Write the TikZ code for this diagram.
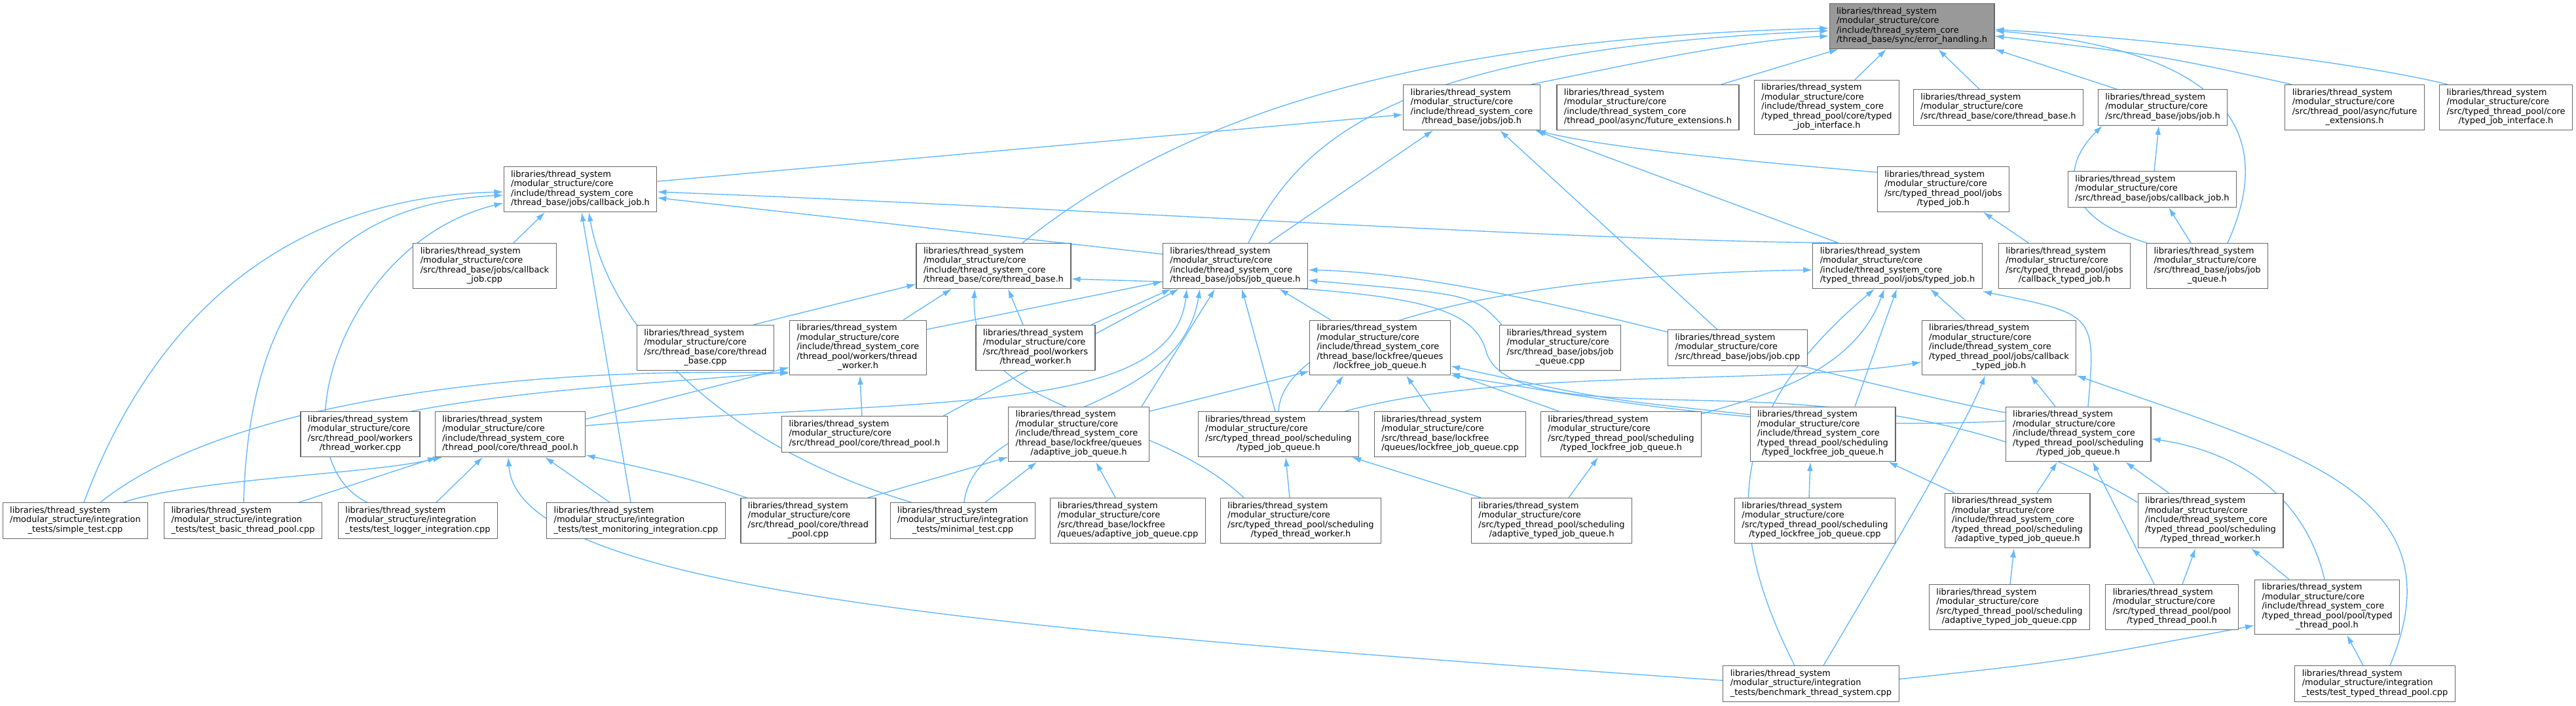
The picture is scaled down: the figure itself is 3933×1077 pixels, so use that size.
\documentclass[tikz,border=0pt]{standalone}
\usepackage{fontspec}
\newfontfamily\doxfont{DejaVu Sans}
\usetikzlibrary{arrows.meta,calc}
\pgfdeclarelayer{bg}
\pgfsetlayers{bg,main}
\definecolor{edgeblue}{HTML}{63B8FF}
\definecolor{boxgray}{HTML}{666666}
\definecolor{rootfill}{HTML}{999999}
% label: lines left aligned, last line centred
\newcommand{\flbl}[2]{\begin{tabular}{@{}l@{}}#1\\\multicolumn{1}{@{}c@{}}{#2}\end{tabular}}
\newcommand{\tscore}{libraries/thread\_system\\/modular\_structure/core}
\newcommand{\tsinc}{\tscore\\/include/thread\_system\_core}
\newcommand{\tsint}{libraries/thread\_system\\/modular\_structure/integration}

\begin{document}
\begin{tikzpicture}[x=1pt,y=-1pt,
    hdr/.style={draw=boxgray, line width=1.2pt, fill=white, inner xsep=11pt, inner ysep=5.5pt,
        font=\doxfont\fontsize{13}{14.5}\selectfont},
    roothdr/.style={hdr, fill=rootfill},
    incline/.style={draw=edgeblue, line width=1.4pt, -{Latex[length=14pt,width=9pt]}}
]
\useasboundingbox (0,0) rectangle (3933,1077);

% root
\node[roothdr] (R) at (2919,40) {\flbl{\tsinc}{/thread\_base/sync/error\_handling.h}};

% row 1
\node[hdr] (IJ) at (2247,164) {\flbl{\tsinc}{/thread\_base/jobs/job.h}};
\node[hdr] (IFE) at (2516,164) {\flbl{\tsinc}{/thread\_pool/async/future\_extensions.h}};
\node[hdr] (ITJI) at (2789,164) {\flbl{\tsinc\\/typed\_thread\_pool/core/typed}{\_job\_interface.h}};
\node[hdr] (STB) at (3051,164) {\flbl{\tscore}{/src/thread\_base/core/thread\_base.h}};
\node[hdr] (SJ) at (3302,164) {\flbl{\tscore}{/src/thread\_base/jobs/job.h}};
\node[hdr] (SFE) at (3595,164) {\flbl{\tscore\\/src/thread\_pool/async/future}{\_extensions.h}};
\node[hdr] (STJI) at (3826,164) {\flbl{\tscore\\/src/typed\_thread\_pool/core}{/typed\_job\_interface.h}};

% row 2
\node[hdr] (ICJ) at (886,289) {\flbl{\tsinc}{/thread\_base/jobs/callback\_job.h}};
\node[hdr] (STJ) at (2967,289) {\flbl{\tscore\\/src/typed\_thread\_pool/jobs}{/typed\_job.h}};
\node[hdr] (SCJ) at (3286,289) {\flbl{\tscore}{/src/thread\_base/jobs/callback\_job.h}};

% row 3
\node[hdr] (CJC) at (740,406) {\flbl{\tscore\\/src/thread\_base/jobs/callback}{\_job.cpp}};
\node[hdr] (ITB) at (1517,406) {\flbl{\tsinc}{/thread\_base/core/thread\_base.h}};
\node[hdr] (IJQ) at (1886,406) {\flbl{\tsinc}{/thread\_base/jobs/job\_queue.h}};
\node[hdr] (ITJ) at (2897,406) {\flbl{\tsinc}{/typed\_thread\_pool/jobs/typed\_job.h}};
\node[hdr] (SCTJ) at (3152,406) {\flbl{\tscore\\/src/typed\_thread\_pool/jobs}{/callback\_typed\_job.h}};
\node[hdr] (SJQ) at (3370,406) {\flbl{\tscore\\/src/thread\_base/jobs/job}{\_queue.h}};

% row 4
\node[hdr] (TBC) at (1077,531) {\flbl{\tscore\\/src/thread\_base/core/thread}{\_base.cpp}};
\node[hdr] (ITW) at (1310,531) {\flbl{\tsinc\\/thread\_pool/workers/thread}{\_worker.h}};
\node[hdr] (STW) at (1581,531) {\flbl{\tscore\\/src/thread\_pool/workers}{/thread\_worker.h}};
\node[hdr] (ILJQ) at (2107,531) {\flbl{\tsinc\\/thread\_base/lockfree/queues}{/lockfree\_job\_queue.h}};
\node[hdr] (JQC) at (2382,531) {\flbl{\tscore\\/src/thread\_base/jobs/job}{\_queue.cpp}};
\node[hdr] (JC) at (2653,531) {\flbl{\tscore}{/src/thread\_base/jobs/job.cpp}};
\node[hdr] (ICTJ) at (3052,531) {\flbl{\tsinc\\/typed\_thread\_pool/jobs/callback}{\_typed\_job.h}};

% row 5
\node[hdr] (TWC) at (550,663) {\flbl{\tscore\\/src/thread\_pool/workers}{/thread\_worker.cpp}};
\node[hdr] (ITP) at (779,663) {\flbl{\tsinc}{/thread\_pool/core/thread\_pool.h}};
\node[hdr] (STP) at (1320,663) {\flbl{\tscore}{/src/thread\_pool/core/thread\_pool.h}};
\node[hdr] (IAJQ) at (1647,663) {\flbl{\tsinc\\/thread\_base/lockfree/queues}{/adaptive\_job\_queue.h}};
\node[hdr] (STJQ) at (1952,663) {\flbl{\tscore\\/src/typed\_thread\_pool/scheduling}{/typed\_job\_queue.h}};
\node[hdr] (LJQC) at (2214,663) {\flbl{\tscore\\/src/thread\_base/lockfree}{/queues/lockfree\_job\_queue.cpp}};
\node[hdr] (STLJQ) at (2475,663) {\flbl{\tscore\\/src/typed\_thread\_pool/scheduling}{/typed\_lockfree\_job\_queue.h}};
\node[hdr] (ITLJQ) at (2783,663) {\flbl{\tsinc\\/typed\_thread\_pool/scheduling}{/typed\_lockfree\_job\_queue.h}};
\node[hdr] (ITJQ) at (3173,663) {\flbl{\tsinc\\/typed\_thread\_pool/scheduling}{/typed\_job\_queue.h}};

% row 6
\node[hdr] (ST) at (115,795) {\flbl{\tsint}{\_tests/simple\_test.cpp}};
\node[hdr] (TBTP) at (371,795) {\flbl{\tsint}{\_tests/test\_basic\_thread\_pool.cpp}};
\node[hdr] (TLI) at (638,795) {\flbl{\tsint}{\_tests/test\_logger\_integration.cpp}};
\node[hdr] (TMI) at (971,795) {\flbl{\tsint}{\_tests/test\_monitoring\_integration.cpp}};
\node[hdr] (TPC) at (1234,795) {\flbl{\tscore\\/src/thread\_pool/core/thread}{\_pool.cpp}};
\node[hdr] (MT) at (1470,795) {\flbl{\tsint}{\_tests/minimal\_test.cpp}};
\node[hdr] (AJQC) at (1722,795) {\flbl{\tscore\\/src/thread\_base/lockfree}{/queues/adaptive\_job\_queue.cpp}};
\node[hdr] (STTW) at (1986,795) {\flbl{\tscore\\/src/typed\_thread\_pool/scheduling}{/typed\_thread\_worker.h}};
\node[hdr] (SATJQ) at (2369,795) {\flbl{\tscore\\/src/typed\_thread\_pool/scheduling}{/adaptive\_typed\_job\_queue.h}};
\node[hdr] (TLJQC) at (2771,795) {\flbl{\tscore\\/src/typed\_thread\_pool/scheduling}{/typed\_lockfree\_job\_queue.cpp}};
\node[hdr] (IATJQ) at (3080,795) {\flbl{\tsinc\\/typed\_thread\_pool/scheduling}{/adaptive\_typed\_job\_queue.h}};
\node[hdr] (ITTW) at (3375,795) {\flbl{\tsinc\\/typed\_thread\_pool/scheduling}{/typed\_thread\_worker.h}};

% row 7
\node[hdr] (ATJQC) at (3068,927) {\flbl{\tscore\\/src/typed\_thread\_pool/scheduling}{/adaptive\_typed\_job\_queue.cpp}};
\node[hdr] (STTP) at (3316,927) {\flbl{\tscore\\/src/typed\_thread\_pool/pool}{/typed\_thread\_pool.h}};
\node[hdr] (ITTP) at (3553,927) {\flbl{\tsinc\\/typed\_thread\_pool/pool/typed}{\_thread\_pool.h}};

% row 8
\node[hdr] (BTS) at (2765,1044) {\flbl{\tsint}{\_tests/benchmark\_thread\_system.cpp}};
\node[hdr] (TTTP) at (3626,1044) {\flbl{\tsint}{\_tests/test\_typed\_thread\_pool.cpp}};

\begin{pgfonlayer}{bg}
% into root
\draw[incline] ([xshift=91pt]IJ.north) .. controls (2480,100) and (2650,62) .. ([yshift=-15pt]R.west);
\draw[incline] ([xshift=112pt]IFE.north) -- ([xshift=-112pt]R.south);
\draw[incline] ([xshift=43pt]ITJI.north) -- ([xshift=-39pt]R.south);
\draw[incline] ([xshift=-29pt]STB.north) -- ([xshift=40pt]R.south);
\draw[incline] ([xshift=-70pt]SJ.north) -- (R.south east);
\draw[incline] ([xshift=-96pt]SFE.north) .. controls (3300,85) .. ([yshift=-15pt]R.east);
\draw[incline] ([xshift=-89pt]STJI.north) .. controls (3600,95) and (3300,60) .. ([yshift=-5pt]R.east);
\draw[incline] ([xshift=31pt]SJQ.north) .. controls (3465,230) and (3440,80) .. ([yshift=-7pt]R.east);
\draw[incline] ([xshift=44pt]ITB.north) .. controls (1800,180) and (2150,60) .. ([yshift=-3pt]R.west);
\draw[incline] ([xshift=20pt]IJQ.north) .. controls (1990,200) and (2150,75) .. ([yshift=-7pt]R.west);
% into job.h
\draw[incline] ([yshift=12pt]ICJ.east) -- ([yshift=-11pt]IJ.west);
\draw[incline] ([xshift=51pt]IJQ.north) -- ([xshift=-59pt]IJ.south);
\draw[incline] ([xshift=-31pt]JC.north) -- ([xshift=43pt]IJ.south);
\draw[incline] ([xshift=-90pt]ITJ.north) -- ([xshift=97pt]IJ.south);
\draw[incline] ([yshift=26pt]STJ.west) .. controls (2650,245) and (2450,225) .. ([xshift=99pt]IJ.south);
% src jobs
\draw[incline] ([xshift=3pt]SCJ.north) -- ([xshift=-6pt]SJ.south);
\draw[incline] ([xshift=-92pt]SJQ.north) .. controls (3140,330) and (3150,250) .. ([xshift=-92pt]SJ.south);
\draw[incline] ([xshift=-25pt]SJQ.north) -- ([xshift=25pt]SCJ.south);
\draw[incline] ([xshift=-55pt]SCTJ.north) -- ([xshift=61pt]STJ.south);
% into callback_job.h
\draw[incline] ([xshift=44pt]CJC.north) -- ([xshift=-54pt]ICJ.south);
\draw[incline] ([xshift=-8pt]TMI.north) -- ([xshift=2pt]ICJ.south);
\draw[incline] ([xshift=-78pt]MT.north) .. controls (1100,680) and (930,500) .. ([xshift=13pt]ICJ.south);
\draw[incline] ([xshift=13pt]ST.north) .. controls (250,440) and (480,300) .. ([yshift=-4pt]ICJ.west);
\draw[incline] ([xshift=1pt]TBTP.north) .. controls (380,450) and (520,310) .. ([yshift=-9pt]ICJ.west);
\draw[incline] ([xshift=-77pt]TLI.north) .. controls (420,700) and (520,370) .. ([yshift=-21pt]ICJ.west);
\draw[incline] ([yshift=18pt]IJQ.west) -- ([yshift=-13pt]ICJ.east);
\draw[incline] ([xshift=-90pt]ITJ.north) .. controls (2400,368) and (1600,315) .. ([yshift=-4pt]ICJ.east);
% into thread_worker.h
\draw[incline] ([xshift=38pt]ST.north) .. controls (350,610) and (800,560) .. ([yshift=-39pt]ITW.west);
\draw[incline] ([xshift=78pt]TWC.north) .. controls (800,595) and (1000,585) .. ([yshift=-37pt]ITW.west);
\draw[incline] ([yshift=23pt]ITP.east) -- ([yshift=-30pt]ITW.west);
\draw[incline] ([xshift=-4pt]STP.north) -- ([xshift=3pt]ITW.south);
% into thread_pool.h
\draw[incline] ([xshift=73pt]ST.north) .. controls (300,730) and (560,725) .. ([xshift=-104pt]ITP.south);
\draw[incline] ([xshift=85pt]TBTP.north) -- ([xshift=-112pt]ITP.south);
\draw[incline] ([xshift=28pt]TLI.north) -- ([xshift=-42pt]ITP.south);
\draw[incline] ([xshift=-40pt]TMI.north) -- ([xshift=53pt]ITP.south);
\draw[incline] ([yshift=5pt]BTS.west) .. controls (1500,960) and (790,900) .. ([xshift=-3pt]ITP.south);
\draw[incline] ([xshift=-94pt]TPC.north) .. controls (1050,730) .. ([yshift=-32pt]ITP.east);
% into thread_base.h
\draw[incline] ([xshift=69pt]ITW.north) -- ([xshift=-64pt]ITB.south);
\draw[incline] ([xshift=-19pt]STW.north) -- ([xshift=22pt]ITB.south);
\draw[incline] ([xshift=73pt]TBC.north) -- ([yshift=-28pt]ITB.west);
\draw[incline] ([yshift=28pt]ITTW.west) .. controls (3150,700) and (3000,630) .. (2700,615)
    .. controls (2500,605) and (2300,620) .. (2270,540) .. controls (2250,460) and (2150,440) .. ([yshift=-20pt]ITB.east);
\draw[incline] ([xshift=-87pt]STTW.north) .. controls (1750,620) and (1480,640) .. ([xshift=-29pt]ITB.south);
% into job_queue.h
\draw[incline] ([yshift=28pt]ITW.east) -- ([yshift=-24pt]IJQ.west);
\draw[incline] ([xshift=85pt]STW.north) -- ([xshift=-98pt]IJQ.south);
\draw[incline] ([xshift=120pt]STP.north) -- ([xshift=-86pt]IJQ.south);
\draw[incline] ([yshift=13pt]ITP.east) .. controls (1400,605) and (1790,640) .. ([xshift=-74pt]IJQ.south);
\draw[incline] ([xshift=96pt]IAJQ.north) -- ([xshift=-31pt]IJQ.south);
\draw[incline] ([xshift=-5pt]STJQ.north) -- ([xshift=10pt]IJQ.south);
\draw[incline] ([xshift=-75pt]ILJQ.north) -- ([xshift=67pt]IJQ.south);
\draw[incline] ([xshift=-89pt]JQC.north) .. controls (2250,450) .. ([yshift=-22pt]IJQ.east);
\draw[incline] ([yshift=33pt]ITJQ.west) .. controls (2700,560) and (2300,420) .. ([yshift=-6pt]IJQ.east);
\draw[incline] ([xshift=2pt]MT.north) .. controls (1490,620) and (1800,640) .. ([xshift=-54pt]IJQ.south);
% into adaptive_job_queue.h
\draw[incline] ([xshift=91pt]TPC.north) -- ([yshift=-35pt]IAJQ.west);
\draw[incline] ([xshift=34pt]MT.north) -- ([xshift=-64pt]IAJQ.south);
\draw[incline] ([xshift=-19pt]AJQC.north) -- ([xshift=26pt]IAJQ.south);
% into lockfree_job_queue.h
\draw[incline] ([yshift=35pt]IAJQ.east) -- ([yshift=-36pt]ILJQ.west);
\draw[incline] ([xshift=61pt]STJQ.north) -- ([xshift=-56pt]ILJQ.south);
\draw[incline] ([xshift=-29pt]LJQC.north) -- ([xshift=40pt]ILJQ.south);
\draw[incline] ([xshift=-95pt]STLJQ.north) -- ([yshift=-38pt]ILJQ.east);
\draw[incline] ([yshift=30pt]ITLJQ.west) .. controls (2450,610) .. ([yshift=-28pt]ILJQ.east);
\draw[incline] ([yshift=20pt]ITJQ.west) .. controls (2700,660) and (2450,610) .. ([yshift=-42pt]ILJQ.east);
% into src typed_job_queue.h
\draw[incline] ([xshift=-17pt]STTW.north) -- ([xshift=11pt]STJQ.south);
\draw[incline] ([xshift=-108pt]SATJQ.north) -- ([xshift=112pt]STJQ.south);
% into typed_job.h
\draw[incline] (STJQ.north) .. controls (1960,500) and (2300,420) .. ([yshift=-6pt]ITJ.west);
\draw[incline] ([xshift=-52pt]ICTJ.north) -- ([xshift=50pt]ITJ.south);
\draw[incline] ([xshift=49pt]ITLJQ.north) -- ([xshift=-1pt]ITJ.south);
\draw[incline] ([yshift=31pt]STLJQ.east) .. controls (2690,605) and (2830,570) .. ([xshift=-20pt]ITJ.south);
\draw[incline] ([xshift=15pt]ITJQ.north) .. controls (3200,480) .. ([yshift=-39pt]ITJ.east);
\draw[incline] ([xshift=-25pt]BTS.north) .. controls (2620,780) and (2650,620) .. ([xshift=-35pt]ITJ.south);
% into callback_typed_job.h
\draw[incline] ([xshift=102pt]STJQ.north) .. controls (2300,560) and (2700,590) .. ([yshift=-22pt]ICTJ.west);
\draw[incline] ([xshift=-35pt]ITJQ.north) -- ([xshift=48pt]ICTJ.south);
\draw[incline] ([xshift=19pt]BTS.north) .. controls (2900,820) and (3000,650) .. ([xshift=-21pt]ICTJ.south);
\draw[incline] ([xshift=23pt]TTTP.north) .. controls (3760,750) and (3500,690) .. (ICTJ.south east);
% into include typed_job_queue.h
\draw[incline] ([xshift=30pt]IATJQ.north) -- ([xshift=-32pt]ITJQ.south);
\draw[incline] ([xshift=-27pt]STTP.north) -- ([xshift=22pt]ITJQ.south);
\draw[incline] ([xshift=-64pt]ITTW.north) -- ([xshift=72pt]ITJQ.south);
\draw[incline] ([xshift=-4pt]ITTP.north) .. controls (3520,760) and (3420,690) .. ([yshift=-7pt]ITJQ.east);
% lower scheduling headers
\draw[incline] ([xshift=-9pt]TLJQC.north) -- ([xshift=-19pt]ITLJQ.south);
\draw[incline] ([xshift=-96pt]IATJQ.north) -- ([xshift=100pt]ITLJQ.south);
\draw[incline] ([xshift=26pt]SATJQ.north) -- ([xshift=-35pt]STLJQ.south);
\draw[incline] ([xshift=16pt]STTP.north) -- ([xshift=-23pt]ITTW.south);
\draw[incline] ([xshift=-58pt]ITTP.north) -- ([xshift=62pt]ITTW.south);
\draw[incline] ([xshift=1pt]ATJQC.north) -- ([xshift=-5pt]IATJQ.south);
\draw[incline] ([yshift=7pt]BTS.east) .. controls (3150,1010) .. ([yshift=-28pt]ITTP.west);
\draw[incline] ([xshift=-18pt]TTTP.north) -- ([xshift=30pt]ITTP.south);
\end{pgfonlayer}
\end{tikzpicture}
\end{document}
